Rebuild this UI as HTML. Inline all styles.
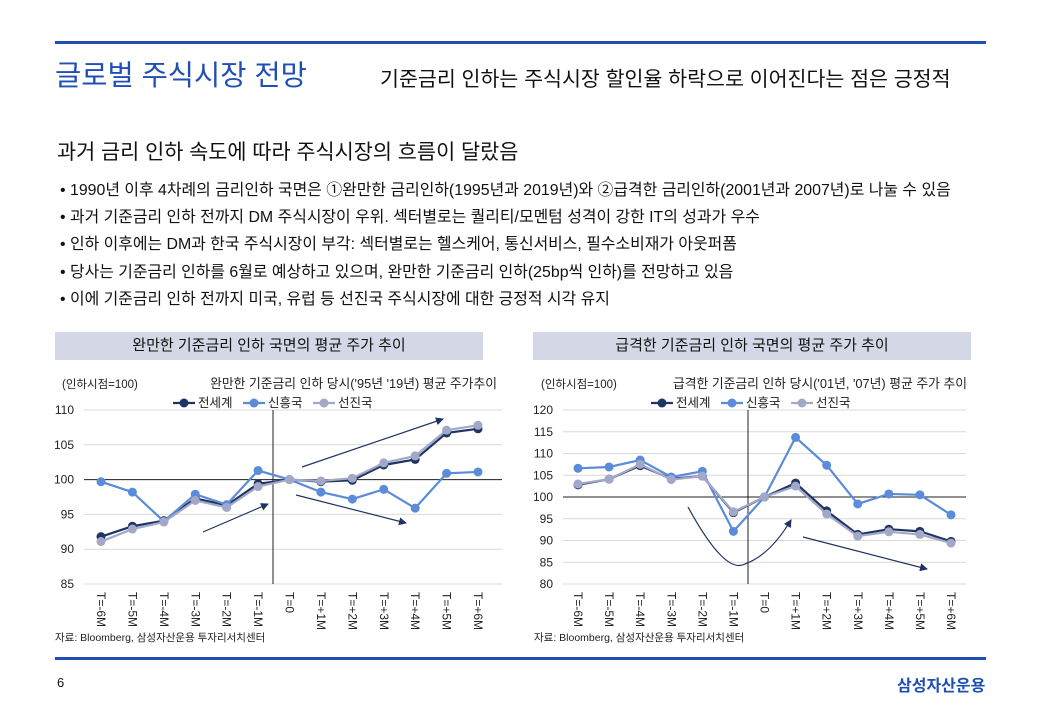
<!DOCTYPE html>
<html><head><meta charset="utf-8">
<style>
body{margin:0;width:1040px;height:720px;background:#fff;position:relative;overflow:hidden;font-family:"Liberation Sans","Noto Sans CJK KR",sans-serif;color:#111}
.a{position:absolute;white-space:nowrap}
</style></head><body>
<div class="a" style="left:55px;top:41px;width:931px;height:3px;background:#1f4fb4"></div>
<div class="a" style="left:55px;top:53px;font-size:28.5px;color:#1f4fb4">글로벌 주식시장 전망</div>
<div class="a" style="left:380px;top:62px;font-size:20.6px">기준금리 인하는 주식시장 할인율 하락으로 이어진다는 점은 긍정적</div>
<div class="a" style="left:57px;top:135px;font-size:20.8px">과거 금리 인하 속도에 따라 주식시장의 흐름이 달랐음</div>
<div class="a" style="left:60px;top:177px;font-size:15.9px;line-height:27.2px;letter-spacing:0px">
<div>• 1990년 이후 4차례의 금리인하 국면은 ①완만한 금리인하(1995년과 2019년)와 ②급격한 금리인하(2001년과 2007년)로 나눌 수 있음</div>
<div>• 과거 기준금리 인하 전까지 DM 주식시장이 우위. 섹터별로는 퀄리티/모멘텀 성격이 강한 IT의 성과가 우수</div>
<div>• 인하 이후에는 DM과 한국 주식시장이 부각: 섹터별로는 헬스케어, 통신서비스, 필수소비재가 아웃퍼폼</div>
<div>• 당사는 기준금리 인하를 6월로 예상하고 있으며, 완만한 기준금리 인하(25bp씩 인하)를 전망하고 있음</div>
<div>• 이에 기준금리 인하 전까지 미국, 유럽 등 선진국 주식시장에 대한 긍정적 시각 유지</div>
</div>
<div class="a" style="left:55px;top:332px;width:428px;height:28px;background:#d4d8e6;font-size:15px;text-align:center;line-height:28px">완만한 기준금리 인하 국면의 평균 주가 추이</div>
<div class="a" style="left:533px;top:332px;width:438px;height:28px;background:#d4d8e6;font-size:15px;text-align:center;line-height:28px">급격한 기준금리 인하 국면의 평균 주가 추이</div>
<svg class="a" style="left:0;top:0" width="1040" height="720" id="svg" font-family="Liberation Sans, Noto Sans CJK KR, sans-serif"></svg>
<div class="a" style="left:55px;top:657px;width:931px;height:3px;background:#1f4fb4"></div>
<div class="a" style="left:57px;top:675px;font-size:13px">6</div>
<div class="a" style="left:897px;top:672px;font-size:16px;font-weight:bold;color:#1f4fb4">삼성자산운용</div>
<script>
const categories=["T=-6M","T=-5M","T=-4M","T=-3M","T=-2M","T=-1M","T=0","T=+1M","T=+2M","T=+3M","T=+4M","T=+5M","T=+6M"];
const seriesNames=["전세계","신흥국","선진국"];
const leftWorld=[91.8,93.3,94.1,97.3,96.3,99.4,100,99.7,99.9,102.1,102.9,106.7,107.3];
const leftEM=[99.7,98.2,94.0,97.9,96.4,101.3,100,98.2,97.2,98.6,95.9,100.9,101.1];
const leftDM=[91.1,92.9,93.9,97.0,96.0,99.0,100,99.8,100.2,102.4,103.4,107.1,107.8];
const leftTicks=[85,90,95,100,105,110];
const rightWorld=[102.8,104.1,107.2,104.2,104.8,96.4,100,103.2,96.8,91.4,92.6,92.1,89.8];
const rightEM=[106.6,106.9,108.5,104.6,105.9,92.1,100,113.7,107.3,98.4,100.7,100.5,95.9];
const rightDM=[103.0,104.1,107.5,104.0,104.8,96.6,100,102.5,96.1,91.0,92.0,91.4,89.4];
const rightTicks=[80,85,90,95,100,105,110,115,120];
const colors=["#1f3464","#5b8bd9","#a3a8c8"];
const NS="http://www.w3.org/2000/svg";
const svg=document.getElementById('svg');
function mk(t,a,p){const e=document.createElementNS(NS,t);for(const k in a)e.setAttribute(k,a[k]);(p||svg).appendChild(e);return e;}
function chart(c){
 const g=mk('g',{});
 
 
 const mn=c.ticks[0],mx=c.ticks[c.ticks.length-1];
 const y=v=>c.y0+(mx-v)/(mx-mn)*(c.y1-c.y0);
 const x=i=>c.x0+i*(c.x1-c.x0)/(categories.length-1);
 c.ticks.forEach(t=>{
  const l=mk('line',{x1:c.gl,x2:c.gr,y1:y(t),y2:y(t),stroke:'#d9d9d9','stroke-width':1},g);
  
  
  const tx=mk('text',{x:c.gl-10,y:y(t)+4,'font-size':12,'text-anchor':'end',fill:'#222'},g);tx.textContent=t;
  
  
 });
 const ax=mk('line',{x1:c.gl,x2:c.gr,y1:y(100),y2:y(100),stroke:'#222','stroke-width':1},g);
 
 
 const va=mk('line',{x1:c.ax,x2:c.ax,y1:c.y0,y2:c.y1,stroke:'#222','stroke-width':1},g);
 
 
 categories.forEach((cat,i)=>{
  const t=mk('text',{transform:`translate(${x(i)-4},${c.y1+8}) rotate(90)`,'font-size':12,fill:'#222'},g);t.textContent=cat;
  
  
 });
 c.arrows(g);
 [c.world,c.em,c.dm].forEach((s,k)=>{
  const pts=s.map((v,i)=>x(i)+','+y(v)).join(' ');
  const pl=mk('polyline',{points:pts,fill:'none',stroke:colors[k],'stroke-width':2.2},g);
  
  
  s.forEach((v,i)=>{const ci=mk('circle',{cx:x(i),cy:y(v),r:4.5,fill:colors[k]},g);
   
   });
 });
 const t1=mk('text',{x:c.gl-22,y:388,'font-size':11.5,fill:'#222'},g);t1.textContent='(인하시점=100)';
 
 
 const t2=mk('text',{x:c.titleX,y:388,'font-size':12.8,fill:'#222','text-anchor':'end'},g);t2.textContent=c.title;
 
 
 let lx=c.legX;
 seriesNames.forEach((n,k)=>{
  const le=mk('g',{},g);
  
  
  mk('line',{x1:lx,x2:lx+22,y1:403,y2:403,stroke:colors[k],'stroke-width':2.2},le);
  mk('circle',{cx:lx+11,cy:403,r:4.5,fill:colors[k]},le);
  const t=mk('text',{x:lx+25,y:407,'font-size':12.5,fill:'#222'},le);t.textContent=n;
  lx+=70;
 });
 const src=mk('text',{x:c.gl-29,y:641,'font-size':10.5,fill:'#222'},g);src.textContent='자료: Bloomberg, 삼성자산운용 투자리서치센터';
 
 
}
const defs=mk('defs',{});
const m=mk('marker',{id:'ah',markerWidth:8,markerHeight:8,refX:7,refY:4,orient:'auto',markerUnits:'userSpaceOnUse'},defs);
mk('path',{d:'M0,0 L8,4 L0,8 z',fill:'#1f3464'},m);
function arrow(g,d){const p=mk('path',{d:d,fill:'none',stroke:'#1f3464','stroke-width':1.2,'marker-end':'url(#ah)'},g);
 
 }
chart({name:'left-chart',ticks:leftTicks,world:leftWorld,em:leftEM,dm:leftDM,x0:101,x1:478,y0:410,y1:584,gl:84,gr:502,ax:273,titleX:497,legX:173,
 title:"완만한 기준금리 인하 당시('95년 '19년) 평균 주가추이",
 arrows:g=>{arrow(g,'M203,532 L268,504');arrow(g,'M302,467 L443,419');arrow(g,'M296,495 L406,523');}});
chart({name:'right-chart',ticks:rightTicks,world:rightWorld,em:rightEM,dm:rightDM,x0:578,x1:951,y0:410,y1:584,gl:563,gr:966,ax:748,titleX:967,legX:651,
 title:"급격한 기준금리 인하 당시('01년, '07년) 평균 주가 추이",
 arrows:g=>{arrow(g,'M688,507 Q725,575 745,564 Q770,555 791,520');arrow(g,'M803,537 L927,569');}});
</script>
</body></html>
